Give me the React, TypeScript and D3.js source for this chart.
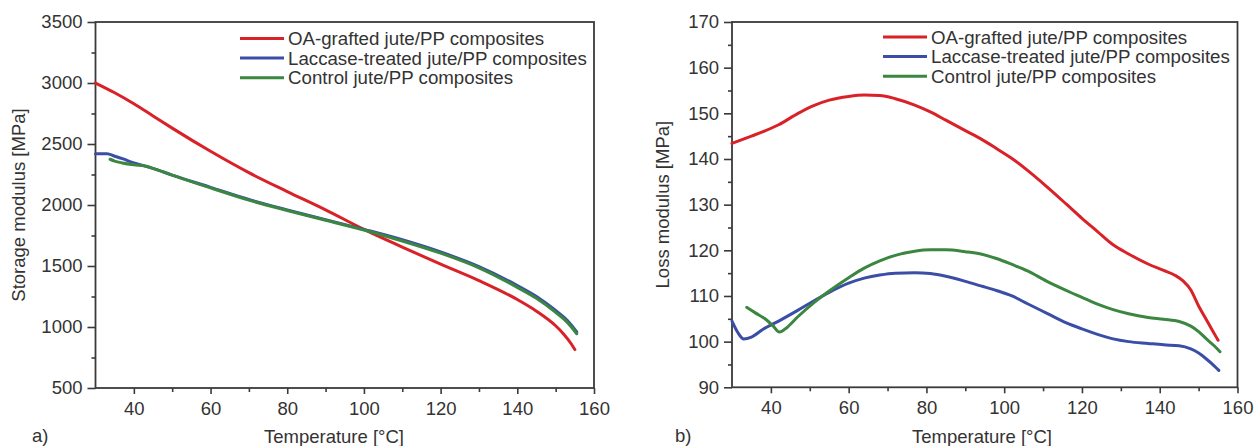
import React, { useRef, useEffect } from 'react';
import * as d3 from 'd3';

// ---- data ----
const seriesNames = [
  'OA-grafted jute/PP composites',
  'Laccase-treated jute/PP composites',
  'Control jute/PP composites',
];
const seriesColors = ['#d92128', '#3a4ea6', '#3b8640'];

// a) storage modulus
const tempStorageOA = [30, 35, 40, 45, 50, 60, 70, 80, 90, 100, 110, 120, 130, 140, 145, 150, 152, 154, 155];
const storageOA = [3000, 2920, 2830, 2730, 2630, 2440, 2265, 2110, 1960, 1800, 1655, 1515, 1380, 1225, 1130, 1010, 945, 865, 815];

const tempStorageLac = [30, 33, 35, 37, 40, 45, 50, 60, 70, 80, 90, 100, 110, 120, 130, 140, 145, 150, 153, 155.5];
const storageLac = [2420, 2420, 2400, 2380, 2345, 2300, 2245, 2145, 2045, 1960, 1880, 1800, 1715, 1615, 1495, 1340, 1250, 1135, 1055, 960];

const tempStorageCtrl = [33.8, 35, 37, 40, 43, 45, 50, 60, 70, 80, 90, 100, 110, 120, 130, 140, 145, 150, 153, 155.5];
const storageCtrl = [2375, 2360, 2345, 2330, 2320, 2300, 2245, 2140, 2040, 1955, 1875, 1795, 1705, 1605, 1485, 1325, 1235, 1120, 1040, 945];

// b) loss modulus
const tempLossOA = [30, 35, 38, 42, 47, 51, 55, 60, 64, 68, 72, 77, 81, 85, 90, 94, 98, 102, 106, 111, 116, 120, 124, 128, 132, 137, 141, 144, 146, 148, 150, 152, 154, 155];
const lossOA = [143.4, 145, 146, 147.5, 150, 151.7, 152.9, 153.7, 154, 153.9, 153.2, 151.8, 150.3, 148.5, 146.2, 144.4, 142.3, 140.1, 137.5, 133.9, 130.1, 127, 124.1, 121.2, 119.2, 117, 115.6, 114.5, 113.3, 111.3, 107.8, 104.8, 101.8, 100.3];

const tempLossLac = [30, 31.5, 33, 35, 38, 42, 47, 51, 55, 60, 64, 68, 72, 77, 81, 85, 90, 94, 98, 102, 106, 111, 116, 120, 124, 128, 132, 137, 141, 145, 148, 150, 152, 154, 155.2];
const lossLac = [104.5, 102, 100.6, 101, 102.7, 104.5, 106.9, 108.9, 110.8, 112.8, 113.9, 114.6, 115, 115.1, 114.9, 114.3, 113.2, 112.2, 111.2, 110, 108.3, 106.2, 104.1, 102.8, 101.6, 100.6, 100, 99.6, 99.3, 99.1, 98.4, 97.5, 96.2, 94.7, 93.7];

const tempLossCtrl = [33.8, 36, 38.5, 40.5, 42.2, 44, 47, 51, 55, 60, 64, 68, 72, 77, 81, 85, 90, 94, 98, 102, 106, 111, 116, 120, 124, 128, 132, 137, 141, 145, 148, 150, 152, 154, 155.5];
const lossCtrl = [107.5, 106.3, 105, 103.5, 102.1, 103, 105.5, 108.5, 111.1, 114, 116.1, 117.7, 118.9, 119.8, 120.1, 120.1, 119.7, 119.2, 118.2, 116.9, 115.5, 113.2, 111.2, 109.7, 108.2, 107, 106.1, 105.3, 104.9, 104.4, 103.4, 102.2, 100.6, 99.1, 97.8];

// axes
const tempTicks = [40, 60, 80, 100, 120, 140, 160];
const tempMinor = [50, 70, 90, 110, 130, 150];
const storageTicks = [500, 1000, 1500, 2000, 2500, 3000, 3500];
const storageMinor = [750, 1250, 1750, 2250, 2750, 3250];
const lossTicks = [90, 100, 110, 120, 130, 140, 150, 160, 170];
const lossMinor = [95, 105, 115, 125, 135, 145, 155, 165];

const FONT = '"Liberation Sans", Arial, Helvetica, sans-serif';
const AXIS = '#3a3a3a';
const TEXT = '#333';

const App = () => {
  const ref = useRef();

  useEffect(() => {
    const svg = d3.select(ref.current);
    svg.selectAll('*').remove();

    const drawPanel = (opt) => {
      const { x0, x1, y0, y1, yDomain, yTicks, yMinor, yLabel, yLabelX, xLabelX, tag, tagX, legendX, legendY, series } = opt;
      const x = d3.scaleLinear().domain([30, 160]).range([x0, x1]);
      const y = d3.scaleLinear().domain(yDomain).range([y1, y0]);
      const g = svg.append('g');

      // frame (top + right plain)
      g.append('rect')
        .attr('x', x0).attr('y', y0)
        .attr('width', x1 - x0).attr('height', y1 - y0)
        .attr('fill', 'none').attr('stroke', AXIS).attr('stroke-width', 1.8);

      // --- x axis ---
      g.append('g').attr('transform', `translate(0,${y1})`)
        .call(d3.axisBottom(x).tickValues(tempMinor).tickSize(4).tickFormat(''))
        .call(a => a.select('.domain').remove());
      g.append('g').attr('transform', `translate(0,${y1})`)
        .call(d3.axisBottom(x).tickValues(tempTicks).tickSize(6).tickPadding(8).tickFormat(d3.format('d')))
        .call(a => a.select('.domain').remove());

      // --- y axis ---
      g.append('g').attr('transform', `translate(${x0},0)`)
        .call(d3.axisLeft(y).tickValues(yMinor).tickSize(4).tickFormat(''))
        .call(a => a.select('.domain').remove());
      g.append('g').attr('transform', `translate(${x0},0)`)
        .call(d3.axisLeft(y).tickValues(yTicks).tickSize(8).tickPadding(5).tickFormat(d3.format('d')))
        .call(a => a.select('.domain').remove());

      g.selectAll('.tick line').attr('stroke', AXIS).attr('stroke-width', 1.6);
      g.selectAll('.tick text')
        .attr('fill', TEXT)
        .style('font-family', FONT)
        .style('font-size', '18.5px');

      // --- curves ---
      series.forEach((s, i) => {
        const pts = s.t.map((t, k) => [t, s.v[k]]);
        const line = d3.line()
          .x(d => x(d[0]))
          .y(d => y(d[1]))
          .curve(d3.curveMonotoneX);
        g.append('path')
          .datum(pts)
          .attr('fill', 'none')
          .attr('stroke', seriesColors[i])
          .attr('stroke-width', 3)
          .attr('stroke-linejoin', 'round')
          .attr('stroke-linecap', 'round')
          .attr('d', line);
      });

      // --- legend ---
      seriesNames.forEach((name, i) => {
        const ly = legendY + i * 19.6;
        g.append('line')
          .attr('x1', legendX).attr('x2', legendX + 44)
          .attr('y1', ly).attr('y2', ly)
          .attr('stroke', seriesColors[i]).attr('stroke-width', 3);
        g.append('text')
          .attr('x', legendX + 48).attr('y', ly + 6.5)
          .attr('fill', TEXT)
          .style('font-family', FONT).style('font-size', '18.7px')
          .text(name);
      });

      // --- titles ---
      g.append('text')
        .attr('transform', `translate(${yLabelX},${(y0 + y1) / 2}) rotate(-90)`)
        .attr('text-anchor', 'middle').attr('dy', '0.35em')
        .attr('fill', TEXT)
        .style('font-family', FONT).style('font-size', '18.5px')
        .text(yLabel);
      g.append('text')
        .attr('x', xLabelX).attr('y', 443)
        .attr('text-anchor', 'middle')
        .attr('fill', TEXT)
        .style('font-family', FONT).style('font-size', '18.5px')
        .text('Temperature [°C]');
      g.append('text')
        .attr('x', tagX).attr('y', 442)
        .attr('fill', TEXT)
        .style('font-family', FONT).style('font-size', '18.5px')
        .text(tag);
    };

    drawPanel({
      x0: 95.5, x1: 594, y0: 22, y1: 388,
      yDomain: [500, 3500], yTicks: storageTicks, yMinor: storageMinor,
      yLabel: 'Storage modulus [MPa]', yLabelX: 18.5, xLabelX: 334,
      tag: 'a)', tagX: 32, legendX: 240, legendY: 38.5,
      series: [
        { t: tempStorageOA, v: storageOA },
        { t: tempStorageLac, v: storageLac },
        { t: tempStorageCtrl, v: storageCtrl },
      ],
    });

    drawPanel({
      x0: 732, x1: 1237.5, y0: 22, y1: 387.3,
      yDomain: [90, 170], yTicks: lossTicks, yMinor: lossMinor,
      yLabel: 'Loss modulus [MPa]', yLabelX: 663, xLabelX: 982,
      tag: 'b)', tagX: 675, legendX: 883, legendY: 37,
      series: [
        { t: tempLossOA, v: lossOA },
        { t: tempLossLac, v: lossLac },
        { t: tempLossCtrl, v: lossCtrl },
      ],
    });
  }, []);

  return (
    <svg
      ref={ref}
      width={1254}
      height={446}
      style={{ position: 'absolute', left: 0, top: 0, background: '#fff' }}
    ></svg>
  );
};

export default App;
